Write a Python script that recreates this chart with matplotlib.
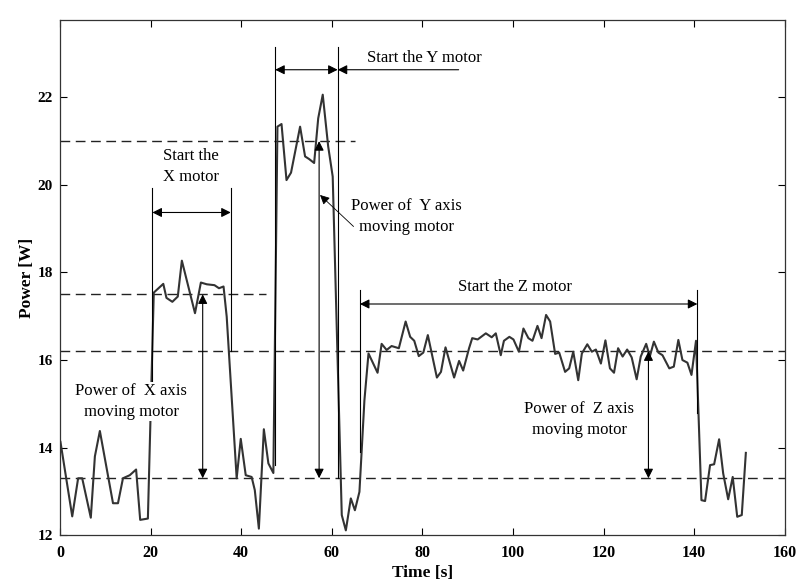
import matplotlib
matplotlib.use("Agg")
import matplotlib.pyplot as plt

plt.rcParams['font.family'] = ['Liberation Serif', 'DejaVu Serif']

# tiempo [s] y potencia [W]
tiempo = [0.1, 2.7, 4.0, 4.9, 6.8, 7.7, 8.8, 11.7, 12.8, 13.9, 15.4, 16.8, 17.7, 19.4,
          20.7, 22.8, 23.5, 24.8, 26.0, 26.9, 29.8, 31.1, 32.4, 34.1, 35.1, 36.1, 36.8,
          39.0, 39.9, 41.0, 42.3, 43.0, 43.9, 45.0, 46.0, 47.1,
          48.0, 48.9, 50.0, 51.0, 53.0, 54.1, 55.0, 56.1, 57.0, 58.0, 59.2, 60.2,
          62.2, 63.1, 64.2, 65.1, 66.1, 67.2, 68.1, 70.1, 71.0, 72.1, 73.2, 74.8,
          76.3, 77.3, 78.2, 79.2, 80.2, 81.2, 83.2, 84.1, 85.1, 87.0, 88.1, 89.0,
          90.3, 91.0, 92.2, 94.0, 95.3, 96.2, 97.3, 98.0, 99.2, 100.1, 101.3, 102.3,
          103.4, 104.3, 105.4, 106.3, 107.3, 108.2, 109.3, 110.2, 111.5, 112.4, 113.3,
          114.4, 115.2, 116.4, 117.4, 118.3, 119.4, 120.4, 121.4, 122.3, 123.2, 124.2,
          125.2, 126.2, 127.3, 128.2, 129.4, 130.2, 131.1, 132.1, 133.0, 134.5, 135.5,
          136.5, 137.4, 138.5, 139.4, 140.4, 141.6, 142.4, 143.5, 144.4, 145.5, 146.4,
          147.5, 148.5, 149.5, 150.5, 151.4]
potencia = [14.13, 12.43, 13.3, 13.3, 12.4, 13.8, 14.38, 12.73, 12.73, 13.3, 13.37, 13.5, 12.35, 12.38,
            17.54, 17.74, 17.42, 17.33, 17.45, 18.27, 17.07, 17.77, 17.73, 17.71, 17.64, 17.68, 16.99,
            13.3, 14.2, 13.37, 13.33, 13.03, 12.15, 14.42, 13.64, 13.42,
            21.33, 21.39, 20.11, 20.28, 21.33, 20.65, 20.59, 20.5, 21.52, 22.06, 20.88, 20.19,
            12.46, 12.11, 12.84, 12.57, 12.99, 15.08, 16.15, 15.71, 16.37, 16.23, 16.32, 16.27,
            16.88, 16.53, 16.44, 16.09, 16.17, 16.57, 15.6, 15.73, 16.29, 15.6, 15.98, 15.76,
            16.27, 16.5, 16.47, 16.61, 16.52, 16.61, 16.11, 16.44, 16.53, 16.47, 16.19, 16.72,
            16.5, 16.44, 16.78, 16.5, 17.03, 16.88, 16.14, 16.17, 15.73, 15.81, 16.19,
            15.54, 16.15, 16.36, 16.19, 16.24, 15.92, 16.45, 15.81, 15.71, 16.27, 16.08,
            16.24, 16.06, 15.56, 16.08, 16.37, 16.08, 16.42, 16.17, 16.11, 15.81, 15.85,
            16.46, 16.0, 15.94, 15.66, 16.44, 12.8, 12.78, 13.6, 13.62, 14.19, 13.41,
            12.82, 13.33, 12.42, 12.46, 13.88]

# niveles de referencia (valor, t final)
niveles = [(21.0, 65.2), (17.5, 45.5), (16.2, 160), (13.3, 160)]

fig = plt.figure(figsize=(8, 5.83), dpi=100)
ax = fig.add_axes([0.075, 0.082, 0.906, 0.884])

ax.plot(tiempo, potencia, color="#333333", linewidth=1.5, zorder=3)

for nivel, t_fin in niveles:
    ax.plot([0, t_fin], [nivel, nivel], color="#222222", linewidth=1.0,
            linestyle=(0, (7, 4)), zorder=2)

linea = dict(color="black", linewidth=0.8, zorder=4)
flecha2 = dict(arrowstyle='<|-|>', color='black', lw=0.8, mutation_scale=14, shrinkA=0, shrinkB=0)
flecha1 = dict(arrowstyle='-|>', color='black', lw=0.8, mutation_scale=14, shrinkA=0, shrinkB=0)
fs = 12

# motor X
ax.plot([20.4, 20.4], [15.5, 19.93], **linea)
ax.plot([37.7, 37.7], [16.2, 19.93], **linea)
ax.annotate("", xy=(20.4, 19.37), xytext=(37.7, 19.37), arrowprops=flecha2)
ax.text(29.0, 20.42, "Start the\nX motor", ha="center", va="center", fontsize=fs,
        linespacing=1.4)
ax.annotate("", xy=(31.5, 17.5), xytext=(31.5, 13.3), arrowprops=flecha2)
ax.text(15.7, 15.05, "Power of  X axis\nmoving motor", ha="center", va="center", fontsize=fs,
        linespacing=1.4, zorder=5, bbox=dict(facecolor="white", edgecolor="none", pad=1))

# motor Y
ax.plot([47.5, 47.5], [13.6, 23.15], **linea)
ax.plot([61.3, 61.3], [13.3, 23.15], **linea)
ax.annotate("", xy=(47.5, 22.63), xytext=(61.3, 22.63), arrowprops=flecha2)
ax.annotate("", xy=(61.3, 22.63), xytext=(88.0, 22.63), arrowprops=flecha1)
ax.text(80.5, 22.9, "Start the Y motor", ha="center", va="center", fontsize=fs)
ax.annotate("", xy=(57.2, 21.0), xytext=(57.2, 13.3), arrowprops=flecha2)
ax.annotate("", xy=(57.4, 19.77), xytext=(64.8, 19.05),
            arrowprops=dict(arrowstyle='-|>', color='black', lw=0.6, mutation_scale=14,
                            shrinkA=0, shrinkB=0))
ax.text(76.5, 19.27, "Power of  Y axis\nmoving motor", ha="center", va="center", fontsize=fs,
        linespacing=1.4)

# motor Z
ax.plot([66.2, 66.2], [13.9, 17.6], **linea)
ax.plot([140.7, 140.7], [14.8, 17.6], **linea)
ax.annotate("", xy=(66.2, 17.28), xytext=(140.7, 17.28), arrowprops=flecha2)
ax.text(100.5, 17.66, "Start the Z motor", ha="center", va="center", fontsize=fs)
ax.annotate("", xy=(129.9, 16.2), xytext=(129.9, 13.3), arrowprops=flecha2)
ax.text(114.6, 14.65, "Power of  Z axis\nmoving motor", ha="center", va="center", fontsize=fs,
        linespacing=1.4)

ax.set_xlim(0, 160)
ax.set_ylim(12, 23.77)
ax.set_xticks(range(0, 161, 20))
ax.set_yticks(range(12, 23, 2))
ax.tick_params(direction="in", length=5, width=0.8, top=True, right=True, labelsize=11.5)
ax.tick_params(axis="x", pad=7)
ax.tick_params(axis="y", pad=5, labelsize=11)
for lab in ax.get_xticklabels() + ax.get_yticklabels():
    lab.set_fontweight("bold")
for sp in ax.spines.values():
    sp.set_linewidth(0.9)
    sp.set_color("#333333")

ax.set_xlabel("Time [s]", fontsize=12.5, fontweight="bold", labelpad=3)
ax.set_ylabel("Power [W]", fontsize=12.5, fontweight="bold", labelpad=2)

fig.savefig("out.png", dpi=100)
